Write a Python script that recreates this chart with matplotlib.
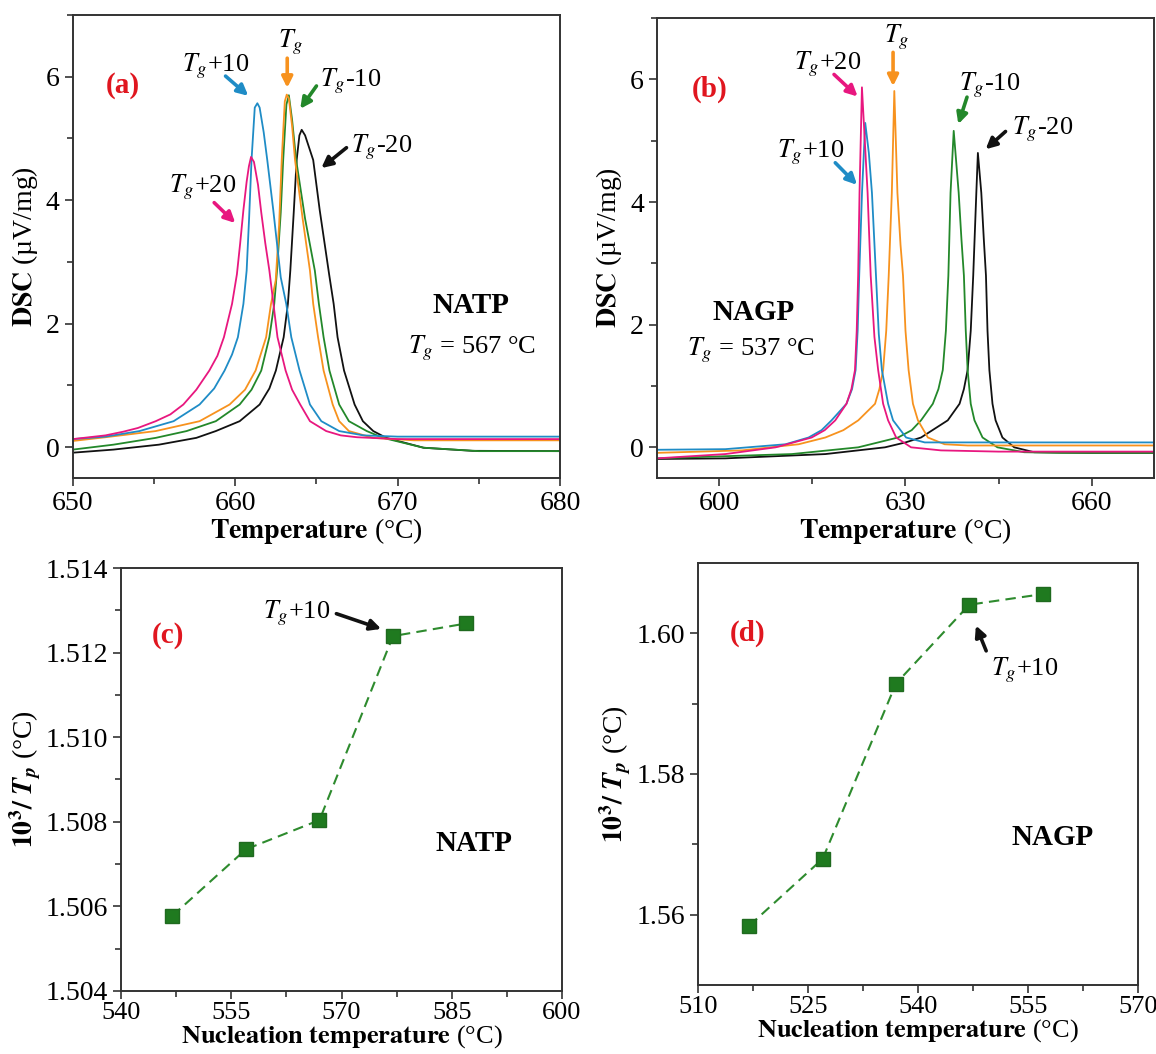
import matplotlib
matplotlib.use("Agg")
import matplotlib.pyplot as plt
from matplotlib.ticker import MultipleLocator, FormatStrFormatter

plt.rcParams["font.family"] = ["Liberation Serif", "DejaVu Serif"]
plt.rcParams["mathtext.fontset"] = "stix"

PINK = "#e8177f"
BLUE = "#1f8cc6"
ORANGE = "#f7921e"
GREEN = "#23882a"
BLACK = "#111111"
RED = "#e0161f"

# ---- (a) NATP DSC curves: temperature (°C), heat flow (µV/mg) ----
a_tg20_T = [650, 652, 653.1, 654, 655.1, 656, 656.8, 657.6, 658.4, 658.9, 659.3, 659.8,
            660.1, 660.3, 660.5, 660.7, 660.84, 660.97, 661.15, 661.4, 661.6, 661.85,
            662.1, 662.6, 663.1, 663.5, 664.0, 664.6, 665.6, 666.5, 667.5, 670, 680]
a_tg20_v = [0.13, 0.19, 0.25, 0.31, 0.42, 0.53, 0.69, 0.93, 1.24, 1.48, 1.78, 2.32,
            2.80, 3.30, 3.84, 4.30, 4.55, 4.70, 4.62, 4.25, 3.80, 3.30,
            2.86, 1.78, 1.24, 0.93, 0.69, 0.42, 0.26, 0.19, 0.16, 0.13, 0.13]
a_tg10_T = [650, 652, 654.1, 656.2, 657.8, 658.7, 659.34, 659.8, 660.16, 660.5, 660.7,
            660.85, 661.0, 661.2, 661.36, 661.5, 661.75, 661.97, 662.34, 662.8, 663.14,
            663.45, 663.96, 664.6, 665.3, 666.4, 667.9, 670, 680]
a_tg10_v = [0.13, 0.17, 0.26, 0.42, 0.69, 0.95, 1.24, 1.50, 1.78, 2.32, 2.86,
            3.70, 4.65, 5.50, 5.57, 5.50, 5.10, 4.65, 3.84, 2.75, 2.32,
            1.78, 1.24, 0.69, 0.42, 0.26, 0.19, 0.17, 0.17]
a_tg_T = [650, 652, 655.1, 657.8, 659.65, 660.6, 661.25, 661.9, 662.2, 662.49, 662.7,
          662.86, 663.05, 663.17, 663.3, 663.5, 663.68, 664.15, 664.6, 664.8, 665.1,
          665.44, 666.0, 666.4, 667.0, 668.5, 671, 680]
a_tg_v = [0.10, 0.16, 0.26, 0.42, 0.69, 0.93, 1.24, 1.78, 2.32, 2.70, 3.60,
          4.65, 5.60, 5.71, 5.65, 5.20, 4.65, 3.70, 2.86, 2.32, 1.78,
          1.24, 0.69, 0.42, 0.26, 0.15, 0.11, 0.11]
a_tgm10_T = [650, 652.5, 655.1, 657.0, 658.8, 660.27, 661.0, 661.6, 662.1, 662.4, 662.57,
             662.8, 662.95, 663.15, 663.3, 663.5, 663.75, 664.3, 664.9, 665.15, 665.44,
             665.8, 666.4, 667.0, 668.1, 669.1, 671.6, 675, 680]
a_tgm10_v = [-0.04, 0.04, 0.15, 0.26, 0.42, 0.69, 0.93, 1.24, 1.78, 2.32, 2.86,
             3.80, 4.65, 5.55, 5.70, 5.30, 4.65, 3.70, 2.86, 2.32, 1.78,
             1.24, 0.69, 0.42, 0.26, 0.15, -0.01, -0.065, -0.065]
a_tgm20_T = [650, 652.5, 655.3, 657.6, 658.8, 660.27, 661.5, 662.1, 662.5, 662.98, 663.24,
             663.39, 663.6, 663.78, 663.95, 664.09, 664.3, 664.8, 665.2, 665.78, 666.06,
             666.3, 666.7, 667.35, 667.86, 668.5, 669.3, 671.6, 674.6, 680]
a_tgm20_v = [-0.09, -0.04, 0.04, 0.15, 0.26, 0.42, 0.69, 0.95, 1.24, 1.78, 2.32,
             2.86, 3.80, 4.65, 5.05, 5.14, 5.05, 4.65, 3.84, 2.80, 2.32,
             1.78, 1.24, 0.69, 0.42, 0.26, 0.15, -0.01, -0.06, -0.065]

# ---- (b) NAGP DSC curves ----
b_tg20_T = [590, 601, 609.1, 614.9, 617.0, 618.7, 620.5, 621.3, 621.87, 622.15, 622.38,
            622.6, 622.99, 623.45, 623.9, 624.4, 625.0, 625.6, 626.4, 627.2, 628.5,
            630.9, 635.7, 645, 670]
b_tg20_v = [-0.18, -0.11, 0.00, 0.16, 0.28, 0.44, 0.71, 0.95, 1.26, 1.90, 2.80,
            4.15, 5.87, 5.00, 4.15, 2.80, 1.80, 1.26, 0.71, 0.44, 0.16,
            0.00, -0.05, -0.07, -0.07]
b_tg10_T = [590, 601, 610.7, 614.4, 616.5, 618.1, 620.5, 621.4, 621.97, 622.3, 622.55,
            623.0, 623.52, 624.1, 624.6, 625.25, 625.7, 626.2, 627.2, 628.0, 630.1,
            633.1, 640, 670]
b_tg10_v = [-0.04, -0.03, 0.05, 0.16, 0.28, 0.44, 0.71, 0.95, 1.26, 1.90, 2.80,
            4.15, 5.29, 4.80, 4.15, 2.80, 1.85, 1.26, 0.71, 0.44, 0.16,
            0.08, 0.08, 0.08]
b_tg_T = [590, 603.7, 612.8, 617.1, 620.0, 622.4, 625.1, 625.8, 626.4, 626.9, 627.3,
          627.8, 628.2, 628.7, 629.2, 629.6, 630.0, 630.5, 631.2, 632.0, 633.6,
          636.3, 640, 670]
b_tg_v = [-0.09, -0.05, 0.05, 0.16, 0.28, 0.44, 0.71, 0.95, 1.26, 1.90, 2.80,
          4.15, 5.81, 4.15, 3.30, 2.80, 1.90, 1.26, 0.71, 0.44, 0.16,
          0.05, 0.03, 0.03]
b_tgm10_T = [590, 611.7, 622.4, 628.8, 631.0, 632.5, 634.4, 635.3, 636.0, 636.5, 636.9,
             637.25, 637.76, 638.56, 639.0, 639.4, 639.7, 640.0, 640.5, 641.1, 642.4,
             644.8, 649.1, 655, 670]
b_tgm10_v = [-0.18, -0.11, 0.00, 0.16, 0.28, 0.44, 0.71, 0.95, 1.26, 1.90, 2.80,
             4.15, 5.16, 4.15, 3.40, 2.80, 1.90, 1.26, 0.71, 0.44, 0.16,
             0.00, -0.08, -0.09, -0.09]
b_tgm20_T = [590, 601, 617.1, 626.7, 630.0, 632.5, 636.8, 638.7, 639.4, 640.0, 640.5,
             640.9, 641.4, 641.65, 642.2, 642.6, 642.95, 643.2, 643.5, 644.0, 644.5,
             645.6, 647.5, 650.7, 660, 670]
b_tgm20_v = [-0.19, -0.18, -0.11, 0.00, 0.08, 0.16, 0.44, 0.71, 0.95, 1.26, 1.90,
             2.80, 4.15, 4.80, 4.15, 3.40, 2.80, 1.90, 1.26, 0.71, 0.44,
             0.16, 0.00, -0.08, -0.09, -0.09]

# ---- (c), (d) inverse peak temperature vs nucleation temperature ----
natp_nuc = [547, 557, 567, 577, 587]
natp_inv_tp = [1.50578, 1.50735, 1.50804, 1.51239, 1.51269]
nagp_nuc = [517, 527, 537, 547, 557]
nagp_inv_tp = [1.55844, 1.56793, 1.59285, 1.60406, 1.60557]

TICK_FS = 20
LABEL_FS = 20
NOTE_FS = 19


def style_axes(ax):
    for s in ax.spines.values():
        s.set_linewidth(1.4)
        s.set_color("#333333")
    ax.tick_params(which="both", direction="out", top=False, right=False,
                   labelsize=TICK_FS, color="#333333", width=1.2)
    ax.tick_params(which="major", length=6)
    ax.tick_params(which="minor", length=4)


def arrow(ax, tail, head, color):
    ax.annotate("", xy=head, xytext=tail,
                arrowprops=dict(arrowstyle="-|>", color=color, lw=2.6,
                                mutation_scale=16, shrinkA=0, shrinkB=0))


fig = plt.figure(figsize=(11.56, 10.54), dpi=100)
ax_a = fig.add_axes([0.0631, 0.5465, 0.4213, 0.4393])
ax_b = fig.add_axes([0.5683, 0.5465, 0.4300, 0.4364])
ax_c = fig.add_axes([0.1047, 0.0598, 0.3815, 0.4013])
ax_d = fig.add_axes([0.6038, 0.0655, 0.3806, 0.4004])

dsc_label = r"$\mathbf{DSC}$ (µV/mg)"
temp_label = r"$\mathbf{Temperature}$ (°C)"
nuc_label = r"$\mathbf{Nucleation\ temperature}$ (°C)"
inv_label = r"$\mathbf{10^3/}$ $\mathbfit{T}_{\mathbfit{p}}$ (°C)"

# (a)
lw = 1.3
ax_a.plot(a_tgm20_T, a_tgm20_v, color=BLACK, lw=lw)
ax_a.plot(a_tgm10_T, a_tgm10_v, color=GREEN, lw=lw)
ax_a.plot(a_tg_T, a_tg_v, color=ORANGE, lw=lw)
ax_a.plot(a_tg10_T, a_tg10_v, color=BLUE, lw=lw)
ax_a.plot(a_tg20_T, a_tg20_v, color=PINK, lw=lw)
ax_a.set_xlim(650, 680)
ax_a.set_ylim(-0.5, 7)
ax_a.xaxis.set_major_locator(MultipleLocator(10))
ax_a.xaxis.set_minor_locator(MultipleLocator(5))
ax_a.yaxis.set_major_locator(MultipleLocator(2))
ax_a.yaxis.set_minor_locator(MultipleLocator(1))
ax_a.set_xlabel(temp_label, fontsize=LABEL_FS, labelpad=0)
ax_a.set_ylabel(dsc_label, fontsize=LABEL_FS, labelpad=4)
style_axes(ax_a)
ax_a.text(653.1, 5.85, "(a)", color=RED, fontsize=21, fontweight="bold", ha="center", va="center")
ax_a.text(658.8, 6.17, r"$T_g$+10", fontsize=NOTE_FS, ha="center", va="center")
arrow(ax_a, (659.4, 6.01), (660.8, 5.69), BLUE)
ax_a.text(663.4, 6.55, r"$T_g$", fontsize=NOTE_FS, ha="center", va="center")
arrow(ax_a, (663.2, 6.30), (663.2, 5.82), ORANGE)
ax_a.text(667.1, 5.93, r"$T_g$-10", fontsize=NOTE_FS, ha="center", va="center")
arrow(ax_a, (665.0, 5.85), (664.0, 5.48), GREEN)
ax_a.text(669.0, 4.85, r"$T_g$-20", fontsize=NOTE_FS, ha="center", va="center")
arrow(ax_a, (666.85, 4.85), (665.3, 4.52), BLACK)
ax_a.text(658.0, 4.21, r"$T_g$+20", fontsize=NOTE_FS, ha="center", va="center")
arrow(ax_a, (658.7, 3.96), (660.0, 3.63), PINK)
ax_a.text(674.5, 2.30, "NATP", fontsize=21, fontweight="bold", ha="center", va="center")
ax_a.text(674.6, 1.60, r"$T_g$ = 567 °C", fontsize=NOTE_FS, ha="center", va="center")

# (b)
ax_b.plot(b_tgm20_T, b_tgm20_v, color=BLACK, lw=lw)
ax_b.plot(b_tgm10_T, b_tgm10_v, color=GREEN, lw=lw)
ax_b.plot(b_tg_T, b_tg_v, color=ORANGE, lw=lw)
ax_b.plot(b_tg10_T, b_tg10_v, color=BLUE, lw=lw)
ax_b.plot(b_tg20_T, b_tg20_v, color=PINK, lw=lw)
ax_b.set_xlim(590, 670)
ax_b.set_ylim(-0.5, 7)
ax_b.set_xticks([600, 630, 660])
ax_b.set_xticks([615, 645], minor=True)
ax_b.yaxis.set_major_locator(MultipleLocator(2))
ax_b.yaxis.set_minor_locator(MultipleLocator(1))
ax_b.set_xlabel(temp_label, fontsize=LABEL_FS, labelpad=0)
ax_b.set_ylabel(dsc_label, fontsize=LABEL_FS, labelpad=4)
style_axes(ax_b)
ax_b.text(598.4, 5.84, "(b)", color=RED, fontsize=21, fontweight="bold", ha="center", va="center")
ax_b.text(617.4, 6.25, r"$T_g$+20", fontsize=NOTE_FS, ha="center", va="center")
arrow(ax_b, (618.5, 6.08), (622.3, 5.72), PINK)
ax_b.text(628.6, 6.69, r"$T_g$", fontsize=NOTE_FS, ha="center", va="center")
arrow(ax_b, (628.0, 6.44), (628.0, 5.89), ORANGE)
ax_b.text(643.5, 5.90, r"$T_g$-10", fontsize=NOTE_FS, ha="center", va="center")
arrow(ax_b, (639.9, 5.71), (638.5, 5.27), GREEN)
ax_b.text(652.0, 5.18, r"$T_g$-20", fontsize=NOTE_FS, ha="center", va="center")
arrow(ax_b, (646.1, 5.15), (642.9, 4.86), BLACK)
ax_b.text(614.7, 4.81, r"$T_g$+10", fontsize=NOTE_FS, ha="center", va="center")
arrow(ax_b, (618.7, 4.64), (622.2, 4.28), BLUE)
ax_b.text(605.6, 2.20, "NAGP", fontsize=21, fontweight="bold", ha="center", va="center")
ax_b.text(605.2, 1.58, r"$T_g$ = 537 °C", fontsize=NOTE_FS, ha="center", va="center")

# (c)
ax_c.plot(natp_nuc, natp_inv_tp, ls="--", color="#2e8b2e", lw=1.5, dashes=(5, 3),
          marker="s", ms=10.5, mfc="#1f7a1f", mec="#1f6a1f")
ax_c.set_xlim(540, 600)
ax_c.set_ylim(1.504, 1.514)
ax_c.xaxis.set_major_locator(MultipleLocator(15))
ax_c.xaxis.set_minor_locator(MultipleLocator(7.5))
ax_c.yaxis.set_major_locator(MultipleLocator(0.002))
ax_c.yaxis.set_minor_locator(MultipleLocator(0.001))
ax_c.yaxis.set_major_formatter(FormatStrFormatter("%.3f"))
ax_c.set_xlabel(nuc_label, fontsize=19, labelpad=-1)
ax_c.set_ylabel(inv_label, fontsize=LABEL_FS, labelpad=2)
style_axes(ax_c)
ax_c.tick_params(axis="x", pad=2, labelsize=19)
ax_c.text(546.4, 1.5124, "(c)", color=RED, fontsize=21, fontweight="bold", ha="center", va="center")
ax_c.text(563.9, 1.51292, r"$T_g$+10", fontsize=NOTE_FS, ha="center", va="center")
arrow(ax_c, (569.3, 1.51292), (575.4, 1.51256), BLACK)
ax_c.text(588.0, 1.50749, "NATP", fontsize=21, fontweight="bold", ha="center", va="center")

# (d)
ax_d.plot(nagp_nuc, nagp_inv_tp, ls="--", color="#2e8b2e", lw=1.5, dashes=(5, 3),
          marker="s", ms=10.5, mfc="#1f7a1f", mec="#1f6a1f")
ax_d.set_xlim(510, 570)
ax_d.set_ylim(1.55, 1.61)
ax_d.xaxis.set_major_locator(MultipleLocator(15))
ax_d.xaxis.set_minor_locator(MultipleLocator(7.5))
ax_d.set_yticks([1.56, 1.58, 1.60])
ax_d.set_yticks([1.57, 1.59], minor=True)
ax_d.yaxis.set_major_formatter(FormatStrFormatter("%.2f"))
ax_d.set_xlabel(nuc_label, fontsize=19, labelpad=-1)
ax_d.set_ylabel(inv_label, fontsize=LABEL_FS, labelpad=2)
style_axes(ax_d)
ax_d.tick_params(axis="x", pad=2, labelsize=19)
ax_d.text(516.7, 1.600, "(d)", color=RED, fontsize=21, fontweight="bold", ha="center", va="center")
ax_d.text(554.5, 1.5947, r"$T_g$+10", fontsize=NOTE_FS, ha="center", va="center")
arrow(ax_d, (549.3, 1.5975), (547.9, 1.6011), BLACK)
ax_d.text(558.3, 1.5709, "NAGP", fontsize=21, fontweight="bold", ha="center", va="center")

fig.savefig("out.png", dpi=100)
